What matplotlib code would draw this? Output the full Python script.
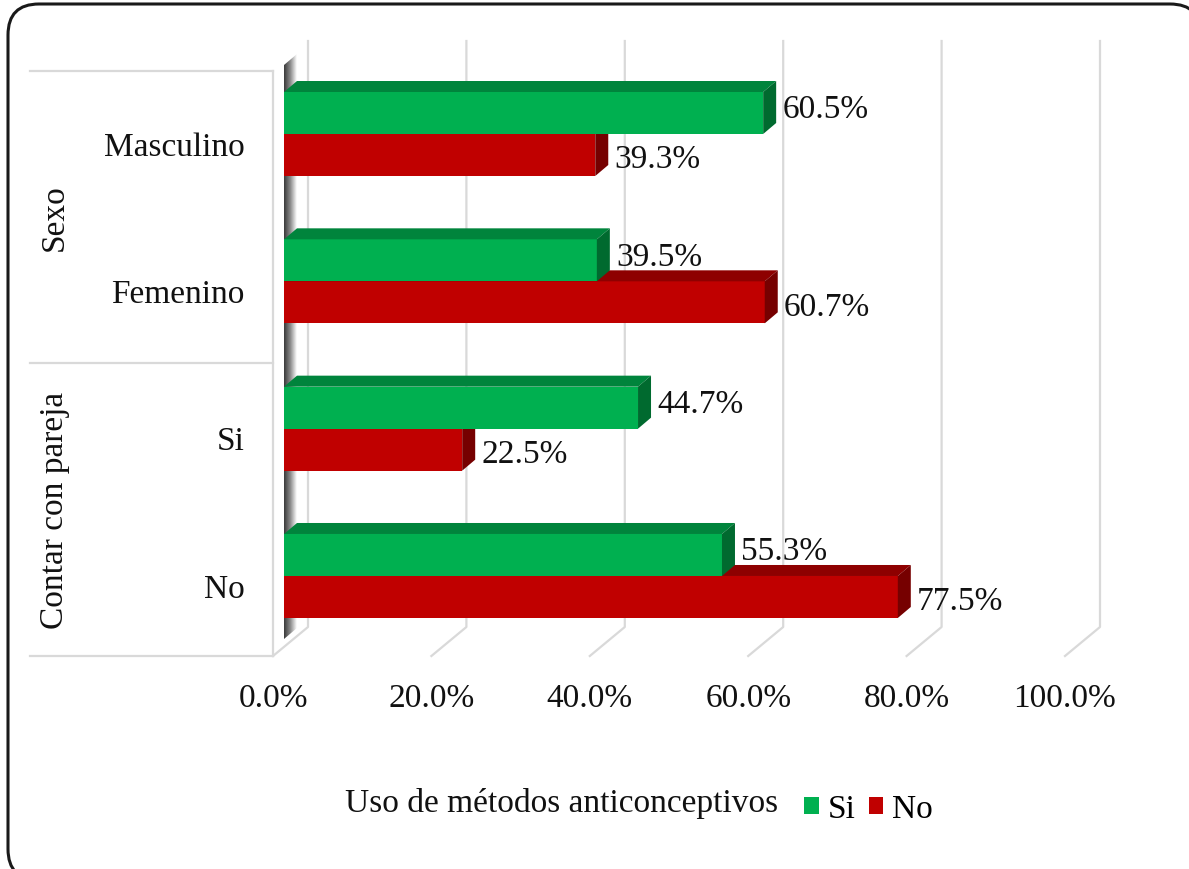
import numpy as np
import matplotlib
matplotlib.use('Agg')
import matplotlib.pyplot as plt
from matplotlib.patches import Polygon, FancyBboxPatch
from matplotlib.lines import Line2D
from matplotlib.colors import LinearSegmentedColormap
from matplotlib.transforms import IdentityTransform, ScaledTranslation

# data
categories = ['Masculino', 'Femenino', 'Si', 'No']
groups = ['Sexo', 'Contar con pareja']
si_values = [60.5, 39.5, 44.7, 55.3]
no_values = [39.3, 60.7, 22.5, 77.5]
series_names = ['Si', 'No']
tick_labels = ['0.0%', '20.0%', '40.0%', '60.0%', '80.0%', '100.0%']
legend_title = 'Uso de métodos anticonceptivos'

W, H = 1189, 870
plt.rcParams['font.family'] = ['Liberation Serif', 'DejaVu Serif']
plt.rcParams['font.size'] = 24

fig = plt.figure(figsize=(W / 100, H / 100), dpi=100)

def fx(px):
    return px / W

def fy(py):
    return 1 - py / H

# rounded outer border (right and bottom edges fall outside the image);
# filled white so Agg does not clip the path at the canvas edge
border = FancyBboxPatch((8, H - 881), 1193, 876, boxstyle='round,pad=0,rounding_size=31',
                        transform=IdentityTransform(), fc='white', ec='#1a1a1a', lw=2.2,
                        zorder=-5)
fig.add_artist(border)

# pixel layout of the bar front plane
x0_px, px_per_pct = 284, 7.92
y0_px, px_per_cat = 135, 147.33
xlim = (-2, 104)
ylim = ((657 - y0_px) / px_per_cat, (42 - y0_px) / px_per_cat)

left = x0_px + px_per_pct * xlim[0]
right = x0_px + px_per_pct * xlim[1]
top = y0_px + px_per_cat * ylim[1]
bottom = y0_px + px_per_cat * ylim[0]
ax = fig.add_axes([fx(left), fy(bottom), (right - left) / W, (bottom - top) / H])
ax.patch.set_alpha(0)
for s in ax.spines.values():
    s.set_visible(False)

# 3d offsets in data units
dx = 13 / px_per_pct
dy = -11 / px_per_cat
bar_h = 42 / px_per_cat
floor_dx = 35 / px_per_pct
floor_dy = -29 / px_per_cat
floor_front = ylim[0]
floor_back = floor_front + floor_dy
grid_front_x = -11 / px_per_pct
grid_c = '#d9d9d9'

# back wall + floor gridlines
for k in range(6):
    xf = grid_front_x + 20 * k
    xb = xf + floor_dx
    ax.plot([xb, xb, xf], [ylim[1], floor_back, floor_front], color=grid_c,
            lw=1.6, zorder=0, clip_on=False)

# shaded left wall strip
strip_top = (66 - y0_px) / px_per_cat
strip_bot = (640 - y0_px) / px_per_cat
cmap = LinearSegmentedColormap.from_list('wall', ['#3a3a3a', '#8c8c8c', '#ffffff'])
grad = np.linspace(0, 1, 64)[None, :]
im = ax.imshow(grad, cmap=cmap, extent=(0, dx, strip_bot, strip_top + dy),
               aspect='auto', zorder=1, interpolation='bilinear')
clip = Polygon([(0, strip_top), (dx, strip_top + dy), (dx, strip_bot + dy), (0, strip_bot)],
               closed=True, transform=ax.transData)
im.set_clip_path(clip)

y = np.arange(len(categories))

def bars3d(values, yc, front, topc, side, z, label):
    bars = ax.barh(yc, values, height=bar_h, color=front, zorder=z, label=label, lw=0)
    for v, c in zip(values, yc):
        yt = c - bar_h / 2
        yb = c + bar_h / 2
        ax.add_patch(Polygon([(0, yt), (v, yt), (v + dx, yt + dy), (dx, yt + dy)],
                             closed=True, fc=topc, ec='none', zorder=z))
        ax.add_patch(Polygon([(v, yt), (v, yb), (v + dx, yb + dy), (v + dx, yt + dy)],
                             closed=True, fc=side, ec='none', zorder=z))
    return bars

no_bars = bars3d(no_values, y + bar_h / 2, '#c00000', '#8e0000', '#760000', 2, series_names[1])
si_bars = bars3d(si_values, y - bar_h / 2, '#00b050', '#00843c', '#006a2f', 3, series_names[0])

# data labels
for vals, yc, off in [(si_values, y - bar_h / 2, 4), (no_values, y + bar_h / 2, -4)]:
    for v, c in zip(vals, yc):
        ax.annotate(f'{v:.1f}%', xy=(v, c), xytext=(19, off), textcoords='offset pixels',
                    ha='left', va='center', fontsize=24, color='#111111', zorder=10)

# axes ticks
ax.set_xticks([grid_front_x + 20 * k for k in range(6)], tick_labels)
ax.tick_params(axis='x', length=0, pad=19, labelsize=24, labelcolor='#111111')
ax.set_yticks(y, categories)
ax.tick_params(axis='y', length=0, pad=17, labelsize=24, labelcolor='#111111')
shift = ScaledTranslation(0, -9 / 100, fig.dpi_scale_trans)
for lab in ax.get_yticklabels():
    lab.set_transform(lab.get_transform() + shift)
ax.set_xlim(*xlim)
ax.set_ylim(*ylim)

# category group box
for yy in [72, 364, 657]:
    fig.add_artist(Line2D([fx(30), fx(273)], [fy(yy), fy(yy)], color=grid_c, lw=1.6,
                          transform=fig.transFigure))
fig.add_artist(Line2D([fx(273), fx(273)], [fy(72), fy(657)], color=grid_c, lw=1.6,
                      transform=fig.transFigure))
fig.text(fx(63), fy(218), groups[0], rotation=90, rotation_mode='anchor',
         ha='center', va='baseline', color='#111111')
fig.text(fx(63), fy(510), groups[1], rotation=90, rotation_mode='anchor',
         ha='center', va='baseline', color='#111111')

# legend
fig.text(fx(345), fy(812), legend_title, ha='left', va='baseline', color='#111111')
ax.legend(handles=[si_bars, no_bars], labels=series_names, ncol=2, loc='center left',
          bbox_to_anchor=(fx(804), fy(810)), bbox_transform=fig.transFigure,
          frameon=False, handlelength=0.44, handleheight=0.44, handletextpad=0.26,
          columnspacing=0.4, borderpad=0, borderaxespad=0, fontsize=24)

fig.savefig('out.png', dpi=100)
